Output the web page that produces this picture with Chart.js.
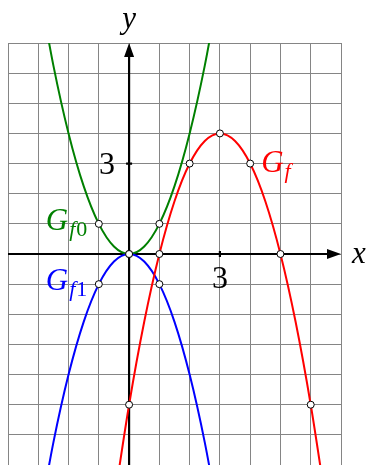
<!DOCTYPE html>
<html>
<head>
<meta charset="utf-8">
<script src="https://cdn.jsdelivr.net/npm/chart.js@4.4.1/dist/chart.umd.min.js"></script>
<style>
  html, body { margin: 0; padding: 0; background: #fff; overflow: hidden; }
  canvas { display: block; }
</style>
</head>
<body>
<canvas id="plot" width="370" height="470"></canvas>
<script>
// axis window
const xMin = -4, xMax = 7;
const yMin = -7, yMax = 7;
const xTicks = [3];
const yTicks = [3];

// G_f (red)
const fX = [-0.5, 0, 0.5, 1, 1.5, 2, 2.5, 3, 3.5, 4, 4.5, 5, 5.5, 6, 6.5];
const fY = [-8.25, -5, -2.25, 0, 1.75, 3, 3.75, 4, 3.75, 3, 1.75, 0, -2.25, -5, -8.25];
// G_f0 (green)
const f0X = [-3, -2.5, -2, -1.5, -1, -0.5, 0, 0.5, 1, 1.5, 2, 2.5, 3];
const f0Y = [9, 6.25, 4, 2.25, 1, 0.25, 0, 0.25, 1, 2.25, 4, 6.25, 9];
// G_f1 (blue)
const f1X = [-3, -2.5, -2, -1.5, -1, -0.5, 0, 0.5, 1, 1.5, 2, 2.5, 3];
const f1Y = [-9, -6.25, -4, -2.25, -1, -0.25, 0, -0.25, -1, -2.25, -4, -6.25, -9];

// marked points
const fPtX = [0, 1, 2, 3, 4, 5, 6];
const fPtY = [-5, 0, 3, 4, 3, 0, -5];
const f0PtX = [-1, 0, 1];
const f0PtY = [1, 0, 1];
const f1PtX = [-1, 0, 1];
const f1PtY = [-1, 0, -1];

const RED = '#ff0000', GREEN = '#008000', BLUE = '#0000ff';
const SERIF = '"Liberation Serif", "DejaVu Serif", serif';

const pts = (xs, ys) => xs.map((v, i) => ({ x: v, y: ys[i] }));

function curve(xs, ys, color) {
    return {
        data: pts(xs, ys),
        showLine: true,
        borderColor: color,
        borderWidth: 2,
        pointRadius: 0,
        cubicInterpolationMode: 'monotone',
        order: 2
    };
}

function marks(xs, ys) {
    return {
        data: pts(xs, ys),
        showLine: false,
        pointRadius: 3.5,
        pointBackgroundColor: '#fff',
        pointBorderColor: '#000',
        pointBorderWidth: 1,
        order: 0
    };
}

function label(ctx, main, sub, left, base, color) {
    ctx.fillStyle = color;
    ctx.textAlign = 'left';
    ctx.textBaseline = 'alphabetic';
    ctx.font = 'italic 31px ' + SERIF;
    ctx.fillText(main, left, base);
    let w = ctx.measureText(main).width + 1;
    ctx.font = 'italic 22px ' + SERIF;
    ctx.fillText('f', left + w, base + 6);
    w += ctx.measureText('f').width + 1;
    if (sub) {
        ctx.font = '22px ' + SERIF;
        ctx.fillText(sub, left + w, base + 6);
    }
}

const overlay = {
    id: 'overlay',
    beforeDatasetsDraw(chart) {
        const { ctx, scales: { x, y } } = chart;
        const x0 = x.getPixelForValue(0), y0 = y.getPixelForValue(0);
        const xl = x.getPixelForValue(xMin), xr = x.getPixelForValue(xMax);
        const yb = y.getPixelForValue(yMin), yt = y.getPixelForValue(yMax);
        ctx.save();
        ctx.strokeStyle = '#000';
        ctx.fillStyle = '#000';
        ctx.lineWidth = 2.2;
        ctx.beginPath();
        ctx.moveTo(xl, y0); ctx.lineTo(xr - 8, y0);
        ctx.moveTo(x0, yb); ctx.lineTo(x0, yt + 8);
        ctx.stroke();
        // arrow heads
        ctx.beginPath();
        ctx.moveTo(xr, y0); ctx.lineTo(xr - 14, y0 - 5); ctx.lineTo(xr - 14, y0 + 5); ctx.closePath();
        ctx.moveTo(x0, yt); ctx.lineTo(x0 - 5, yt + 14); ctx.lineTo(x0 + 5, yt + 14); ctx.closePath();
        ctx.fill();
        // ticks
        ctx.beginPath();
        xTicks.forEach(v => { const p = x.getPixelForValue(v); ctx.moveTo(p, y0 - 3); ctx.lineTo(p, y0 + 3); });
        yTicks.forEach(v => { const p = y.getPixelForValue(v); ctx.moveTo(x0 - 3, p); ctx.lineTo(x0 + 3, p); });
        ctx.stroke();
        ctx.restore();
    },
    afterDatasetsDraw(chart) {
        const { ctx, scales: { x, y } } = chart;
        const x0 = x.getPixelForValue(0), y0 = y.getPixelForValue(0);
        ctx.save();
        ctx.fillStyle = '#000';
        ctx.font = '32px ' + SERIF;
        ctx.textAlign = 'center';
        ctx.textBaseline = 'middle';
        xTicks.forEach(v => ctx.fillText(String(v), x.getPixelForValue(v), y0 + 26));
        ctx.textAlign = 'right';
        yTicks.forEach(v => ctx.fillText(String(v), x0 - 14, y.getPixelForValue(v) + 2));
        ctx.font = 'italic 31px ' + SERIF;
        ctx.textAlign = 'center';
        ctx.fillText('y', x0, y.getPixelForValue(yMax) - 23);
        ctx.textAlign = 'left';
        ctx.fillText('x', x.getPixelForValue(xMax) + 11, y0 + 1);

        label(ctx, 'G', '', x.getPixelForValue(4) + 11, y.getPixelForValue(3) + 8, RED);
        label(ctx, 'G', '0', x.getPixelForValue(-1) - 53, y.getPixelForValue(1) + 6, GREEN);
        label(ctx, 'G', '1', x.getPixelForValue(-1) - 53, y.getPixelForValue(-1) + 6, BLUE);
        ctx.restore();
    }
};

const gridStyle = { color: '#858585', lineWidth: 1, drawTicks: false };

new Chart(document.getElementById('plot'), {
    type: 'scatter',
    data: {
        datasets: [
            marks(fPtX, fPtY),
            marks(f0PtX, f0PtY),
            marks(f1PtX, f1PtY),
            curve(fX, fY, RED),
            curve(f1X, f1Y, BLUE),
            curve(f0X, f0Y, GREEN)
        ]
    },
    options: {
        responsive: false,
        animation: false,
        layout: { padding: { left: 8, right: 29, top: 43, bottom: 2 } },
        plugins: { legend: { display: false }, tooltip: { enabled: false } },
        scales: {
            x: {
                type: 'linear', min: xMin, max: xMax,
                ticks: { stepSize: 1, display: false },
                grid: gridStyle,
                border: { display: false }
            },
            y: {
                type: 'linear', min: yMin, max: yMax,
                ticks: { stepSize: 1, display: false },
                grid: gridStyle,
                border: { display: false }
            }
        }
    },
    plugins: [overlay]
});
</script>
</body>
</html>
